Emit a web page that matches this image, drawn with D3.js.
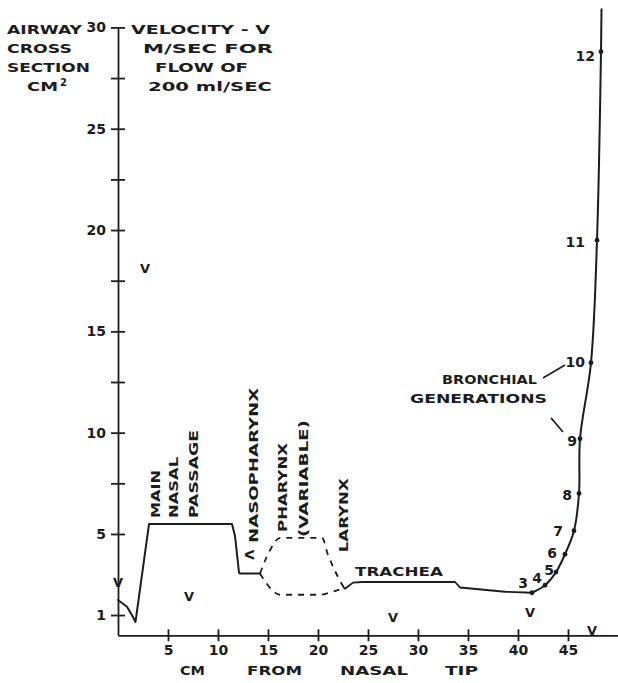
<!DOCTYPE html>
<html>
<head>
<meta charset="utf-8">
<script src="https://cdn.jsdelivr.net/npm/d3@7"></script>
<style>
  body { margin: 0; background: #fff; }
  text { font-family: "DejaVu Sans", sans-serif; font-weight: bold; fill: #1c1c1c; }
</style>
</head>
<body>
<div id="chart"></div>
<script>
// values: distance from nasal tip (cm) vs airway cross section (cm2)
const nasalCm   = [0, 0.9, 1.5, 1.75, 3.1, 11.4, 11.7, 12.1, 12.2, 14.2];
const nasalArea = [1.74, 1.41, 0.9, 0.66, 5.49, 5.49, 4.9, 3.1, 3.05, 3.05];

const pharynxUpperCm   = [14.2, 15.2, 16.2, 20.4, 21.0, 22.0, 22.6];
const pharynxUpperArea = [3.05, 4.2, 4.81, 4.81, 3.97, 2.88, 2.34];
const pharynxLowerCm   = [14.2, 15.4, 16.2, 20.2, 21.4, 22.6];
const pharynxLowerArea = [3.05, 2.24, 2.0, 2.0, 2.14, 2.34];

const tracheaCm   = [22.6, 22.7, 23.5, 24.4, 33.7, 34.2, 38.7, 41.4];
const tracheaArea = [2.34, 2.3, 2.6, 2.63, 2.63, 2.36, 2.15, 2.1];

const bronchialCm   = [41.4, 42.7, 43.8, 44.7, 45.6, 46.1, 46.2, 47.3, 47.9, 48.3, 48.35];
const bronchialArea = [2.1, 2.47, 3.12, 4.0, 5.16, 7.0, 9.7, 13.45, 19.5, 28.8, 30.9];
const generations   = [3, 4, 5, 6, 7, 8, 9, 10, 11, 12];

// velocity "V" marks
const velCm    = [0, 2.7, 7.1, 27.5, 41.2, 47.4];
const velValue = [2.6, 18.1, 1.9, 0.9, 1.15, 0.27];

const xTicks = [5, 10, 15, 20, 25, 30, 35, 40, 45];
const yTicks = [1, 5, 10, 15, 20, 25, 30];
const yMinorTicks = [7.5, 12.5, 17.5, 22.5, 27.5];

const width = 618, height = 683;
const ink = "#1c1c1c";

const svg = d3.select("#chart").append("svg")
    .attr("width", width)
    .attr("height", height);

const x = d3.scaleLinear().domain([0, 50]).range([118, 618]);
const y = d3.scaleLinear().domain([0, 30]).range([635.3, 27.4]);

// axes
const yAxis = svg.append("g")
    .attr("transform", `translate(${x(0)},0)`)
    .call(d3.axisLeft(y).tickValues(yTicks).tickSize(7).tickSizeOuter(0).tickPadding(5));
yAxis.selectAll(".tick line").attr("x1", 7);

const yMinor = svg.append("g")
    .attr("transform", `translate(${x(0)},0)`)
    .call(d3.axisLeft(y).tickValues(yMinorTicks).tickSize(7).tickFormat(""));
yMinor.select(".domain").remove();
yMinor.selectAll(".tick line").attr("x1", 7);

const xAxis = svg.append("g")
    .attr("transform", `translate(0,${y(0)})`)
    .call(d3.axisBottom(x).tickValues(xTicks).tickSize(6).tickSizeOuter(0).tickPadding(4));
xAxis.selectAll(".tick line").attr("y1", -6);

svg.selectAll(".domain, .tick line").attr("stroke", ink).attr("stroke-width", 1.8);
svg.selectAll(".tick text")
    .style("font-family", "DejaVu Sans")
    .style("font-weight", "bold")
    .style("font-size", "14px")
    .attr("fill", ink);

// curves
const pts = (a, b) => d3.zip(a, b);
const line = d3.line().x(d => x(d[0])).y(d => y(d[1]));
const smooth = d3.line().x(d => x(d[0])).y(d => y(d[1])).curve(d3.curveMonotoneX);
const bronch = d3.line().x(d => x(d[0])).y(d => y(d[1])).curve(d3.curveCatmullRom.alpha(0.5));

const curves = svg.append("g").attr("fill", "none").attr("stroke", ink)
    .attr("stroke-linejoin", "round").attr("stroke-linecap", "round");

curves.append("path").attr("d", line(pts(nasalCm, nasalArea))).attr("stroke-width", 2);
curves.append("path").attr("d", smooth(pts(pharynxUpperCm, pharynxUpperArea)))
    .attr("stroke-width", 1.8).attr("stroke-dasharray", "6,6").attr("stroke-linecap", "butt");
curves.append("path").attr("d", smooth(pts(pharynxLowerCm, pharynxLowerArea)))
    .attr("stroke-width", 1.8).attr("stroke-dasharray", "6,6").attr("stroke-linecap", "butt");
curves.append("path").attr("d", line(pts(tracheaCm, tracheaArea))).attr("stroke-width", 1.8);
curves.append("path").attr("d", bronch(pts(bronchialCm, bronchialArea))).attr("stroke-width", 2);

// generation dots and numbers
const genPts = generations.map((g, i) => ({ g, cm: bronchialCm[i], a: bronchialArea[i] }));
const labelOffset = [[-4, -9.5], [-3, -7.5], [-2, -2], [-8, -1], [-11, 0.5], [-7, 2], [-3, 2], [-6, -0.5], [-12, 1.5], [-6, 4.5]];

svg.append("g").selectAll("circle")
    .data(genPts)
    .enter().append("circle")
    .attr("cx", d => x(d.cm))
    .attr("cy", d => y(d.a))
    .attr("r", 2.4)
    .attr("fill", ink);

svg.append("g").selectAll("text")
    .data(genPts)
    .enter().append("text")
    .attr("x", (d, i) => x(d.cm) + labelOffset[i][0])
    .attr("y", (d, i) => y(d.a) + labelOffset[i][1])
    .attr("dy", "0.36em")
    .attr("text-anchor", "end")
    .style("font-size", "14px")
    .text(d => d.g);

// velocity marks
svg.append("g").selectAll("text")
    .data(pts(velCm, velValue))
    .enter().append("text")
    .attr("x", d => x(d[0]))
    .attr("y", d => y(d[1]))
    .attr("dy", "0.36em")
    .attr("text-anchor", "middle")
    .style("font-size", "13px")
    .text("V");

svg.append("text")
    .attr("transform", `translate(${x(13.2)},${y(3.97)}) rotate(90)`)
    .attr("dy", "0.36em")
    .attr("text-anchor", "middle")
    .style("font-size", "13px")
    .text("V");

// vertical region labels [text, cm, area at bottom, length]
const vLabels = [
    ["MAIN", 4.15, 5.79, 48],
    ["NASAL", 5.95, 5.79, 61],
    ["PASSAGE", 7.95, 5.79, 88],
    ["NASOPHARYNX", 13.95, 4.56, 155],
    ["PHARYNX", 16.85, 5.1, 89],
    ["(VARIABLE)", 18.95, 4.85, 117],
    ["LARYNX", 22.95, 4.1, 74]
];
svg.append("g").selectAll("text")
    .data(vLabels)
    .enter().append("text")
    .attr("transform", d => `translate(${x(d[1])},${y(d[2])}) rotate(-90)`)
    .attr("textLength", d => d[3])
    .attr("lengthAdjust", "spacingAndGlyphs")
    .style("font-size", "13px")
    .text(d => d[0]);

// horizontal labels in the plot [text, cm, area of baseline, length]
const hLabels = [
    ["TRACHEA", 23.7, 2.93, 88],
    ["BRONCHIAL", 32.4, 12.4, 95],
    ["GENERATIONS", 29.2, 11.47, 137]
];
svg.append("g").selectAll("text")
    .data(hLabels)
    .enter().append("text")
    .attr("x", d => x(d[1]))
    .attr("y", d => y(d[2]))
    .attr("textLength", d => d[3])
    .attr("lengthAdjust", "spacingAndGlyphs")
    .style("font-size", "13px")
    .text(d => d[0]);

// leader lines
const leaders = [[[42.5, 12.7], [44.7, 13.34]], [[43.3, 10.73], [44.5, 10.03]]];
svg.append("g").selectAll("path")
    .data(leaders)
    .enter().append("path")
    .attr("d", d => line(d))
    .attr("stroke", ink)
    .attr("stroke-width", 1.6)
    .attr("fill", "none");

// header and axis title text [text, x, y, length]
const headText = [
    ["AIRWAY", 7, 34, 75],
    ["CROSS", 7, 53, 65],
    ["SECTION", 7, 72, 83],
    ["CM", 27, 91, 31],
    ["VELOCITY - V", 131, 34, 139],
    ["M/SEC FOR", 143, 53, 130],
    ["FLOW OF", 155, 72, 93],
    ["200 ml/SEC", 148, 91, 124],
    ["CM", 180, 675, 25],
    ["FROM", 247, 675, 55],
    ["NASAL", 340, 675, 68],
    ["TIP", 445, 675, 33]
];
svg.append("g").selectAll("text")
    .data(headText)
    .enter().append("text")
    .attr("x", d => d[1])
    .attr("y", d => d[2])
    .attr("textLength", d => d[3])
    .attr("lengthAdjust", "spacingAndGlyphs")
    .style("font-size", "13px")
    .text(d => d[0]);

svg.append("text")
    .attr("x", 60).attr("y", 86)
    .style("font-size", "10px")
    .text("2");
</script>
</body>
</html>
